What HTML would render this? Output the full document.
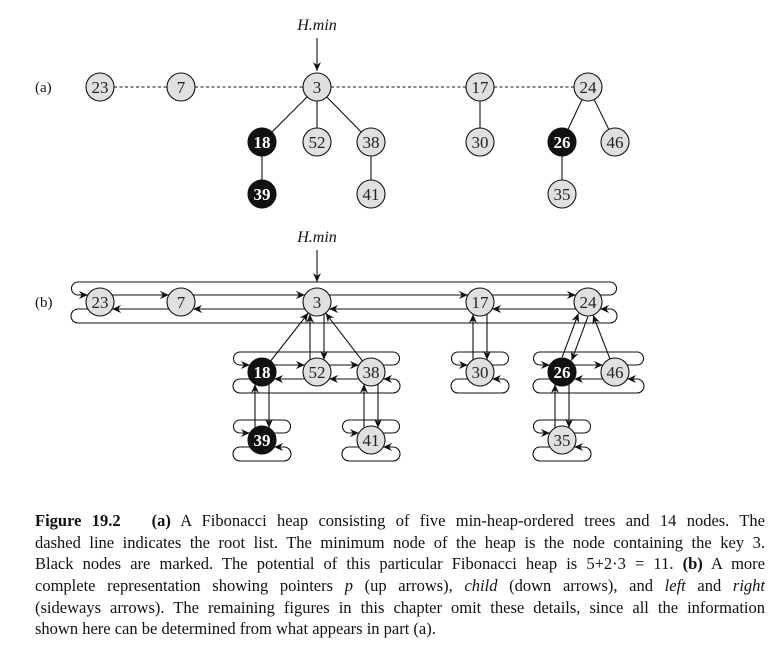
<!DOCTYPE html>
<html><head><meta charset="utf-8"><style>
body{margin:0;background:#fff;width:777px;height:651px;overflow:hidden;position:relative}
svg{position:absolute;left:0;top:0}
#cap{position:absolute;left:35px;top:510px;width:730px;font:16.5px/21.7px "Liberation Serif",serif;color:#111}
#cap div{white-space:nowrap;text-align:justify;text-align-last:justify;height:21.7px}
#cap div.l{text-align-last:left}
</style></head><body>
<svg id="s" width="777" height="500" xmlns="http://www.w3.org/2000/svg">
<defs><marker id="a" markerWidth="10" markerHeight="8" refX="9" refY="4" orient="auto" markerUnits="userSpaceOnUse"><path d="M0,0 L9,4 L0,8 L3,4 Z" fill="#111"/></marker></defs>
<g font-family="Liberation Serif,serif" fill="#111">
<text x="35" y="92" font-size="15">(a)</text>
<text x="35" y="307" font-size="15">(b)</text>
<text x="317" y="30" font-size="16" font-style="italic" text-anchor="middle">H.min</text>
<text x="317" y="242" font-size="16" font-style="italic" text-anchor="middle">H.min</text>
</g>
<g id="g" stroke="#111" stroke-width="1.1" fill="none"></g>
<g id="n"></g>
</svg>
<div id="cap">
<div><b>Figure 19.2</b>&nbsp;&nbsp; <b>(a)</b> A Fibonacci heap consisting of five min-heap-ordered trees and 14 nodes. The</div>
<div>dashed line indicates the root list. The minimum node of the heap is the node containing the key 3.</div>
<div>Black nodes are marked. The potential of this particular Fibonacci heap is 5+2·3 = 11. <b>(b)</b> A more</div>
<div>complete representation showing pointers <i>p</i> (up arrows), <i>child</i> (down arrows), and <i>left</i> and <i>right</i></div>
<div>(sideways arrows). The remaining figures in this chapter omit these details, since all the information</div>
<div class="l">shown here can be determined from what appears in part (a).</div>
</div>
<script>
var g=document.getElementById('g'),nG=document.getElementById('n'),NS='http://www.w3.org/2000/svg';
function el(p,t,a){var e=document.createElementNS(NS,t);for(var k in a)e.setAttribute(k,a[k]);p.appendChild(e);return e}
function line(x1,y1,x2,y2,arr,dash){var o={x1:x1,y1:y1,x2:x2,y2:y2};if(arr)o['marker-end']='url(#a)';if(dash)o['stroke-dasharray']='3,2.5';el(g,'line',o)}
function path(d){el(g,'path',{d:d,'marker-end':'url(#a)'})}
var R=14;
function node(x,y,t,b){el(nG,'circle',{cx:x,cy:y,r:R,fill:b?'#111':'#e0e0e0',stroke:'#111','stroke-width':1.1});
var tx=el(nG,'text',{x:x,y:y+6,'text-anchor':'middle','font-size':17,'font-family':'Liberation Serif,serif',fill:b?'#fff':'#222','font-weight':b?'bold':'normal'});tx.textContent=t}
var ya=87,y2=142,y3=194;
line(317,38,317,71,1);
var roots=[100,181,317,480,588];
for(var i=0;i<4;i++)line(roots[i]+R,ya,roots[i+1]-R,ya,0,1);
function seg(x1,y1,x2,y2,arr){var dx=x2-x1,dy=y2-y1,L=Math.hypot(dx,dy);line(x1+dx/L*R,y1+dy/L*R,x2-dx/L*R,y2-dy/L*R,arr)}
seg(317,ya,262,y2);seg(317,ya,317,y2);seg(317,ya,371,y2);seg(480,ya,480,y2);seg(588,ya,562,y2);seg(588,ya,615,y2);
seg(262,y2,262,y3);seg(371,y2,371,y3);seg(562,y2,562,y3);
var A=[[100,ya,'23'],[181,ya,'7'],[317,ya,'3'],[480,ya,'17'],[588,ya,'24'],[262,y2,'18',1],[317,y2,'52'],[371,y2,'38'],[480,y2,'30'],[562,y2,'26',1],[615,y2,'46'],[262,y3,'39',1],[371,y3,'41'],[562,y3,'35']];
var yb=302,yb2=372,yb3=440;
line(317,250,317,282,1);
var ex=Math.sqrt(R*R-49);
function list(xs,c){var n=xs.length,L=xs[0]-22,Rt=xs[n-1]+22,yt=c-20,yu=c-7,yl=c+7,yB=c+21,r1=6.5,r2=7;
path('M'+(xs[n-1]+ex)+','+yu+' H'+Rt+' A'+r1+','+r1+' 0 0 0 '+Rt+','+yt+' H'+L+' A'+r1+','+r1+' 0 0 0 '+L+','+yu+' H'+(xs[0]-ex));
path('M'+(xs[0]-ex)+','+yl+' H'+L+' A'+r2+','+r2+' 0 0 0 '+L+','+yB+' H'+Rt+' A'+r2+','+r2+' 0 0 0 '+Rt+','+yl+' H'+(xs[n-1]+ex));
for(var i=0;i<n-1;i++){line(xs[i]+ex,yu,xs[i+1]-ex,yu,1);line(xs[i+1]-ex,yl,xs[i]+ex,yl,1)}}
list(roots,yb);list([262,317,371],yb2);list([480],yb2);list([562,615],yb2);list([262],yb3);list([371],yb3);list([562],yb3);
function vpair(x,yp,yc){var d=Math.sqrt(R*R-49);line(x-7,yc-d,x-7,yp+d,1);line(x+7,yp+d,x+7,yc-d,1)}
vpair(317,yb,yb2);vpair(480,yb,yb2);vpair(262,yb2,yb3);vpair(371,yb2,yb3);vpair(562,yb2,yb3);
seg(262,yb2,317,yb,1);seg(371,yb2,317,yb,1);seg(615,yb2,588,yb,1);
(function(){var x1=588,y1=yb,x2=562,y2v=yb2,dx=x2-x1,dy=y2v-y1,L=Math.hypot(dx,dy),ux=dx/L,uy=dy/L,px=-uy*5,py=ux*5;
line(x2-ux*R+px,y2v-uy*R+py,x1+ux*R+px,y1+uy*R+py,1);line(x1+ux*R-px,y1+uy*R-py,x2-ux*R-px,y2v-uy*R-py,1)})();
var B=A.map(function(a){var y=a[1]==ya?yb:a[1]==y2?yb2:yb3;return [a[0],y,a[2],a[3]]});
A.concat(B).forEach(function(a){node(a[0],a[1],a[2],a[3])});
</script>
</body></html>
